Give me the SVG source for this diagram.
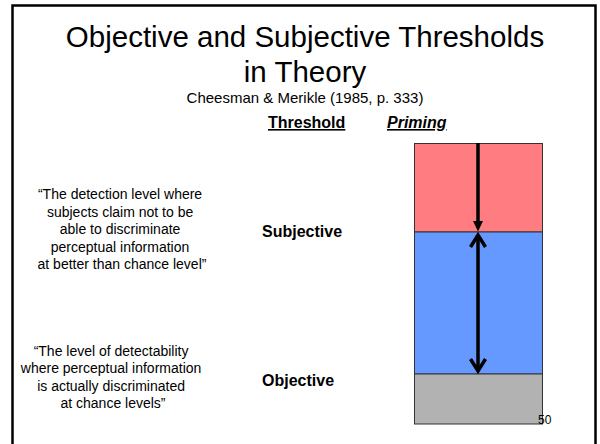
<svg xmlns="http://www.w3.org/2000/svg" width="600" height="444" viewBox="0 0 600 444">
<style>
text{font-family:"Liberation Sans",Arial,sans-serif;fill:#000}
.title{font-size:29.5px}
.q{font-size:14px}
.lbl{font-size:16px;font-weight:bold}
.band{stroke:#333;stroke-width:1}
.arr{stroke:#000;stroke-width:3.5;fill:none}
</style>
<rect width="600" height="444" fill="#fff"/>
<path d="M12.5,444 V5.5 H595.5 V444" fill="none" stroke="#000" stroke-width="2.5"/>
<g id="title">
<text class="title" x="305" y="47" text-anchor="middle">Objective and Subjective Thresholds</text>
<text class="title" x="305" y="82" text-anchor="middle">in Theory</text>
<text x="305" y="103" text-anchor="middle" font-size="15">Cheesman &amp; Merikle (1985, p. 333)</text>
</g>
<g id="headers">
<text class="lbl" x="268" y="128" text-decoration="underline">Threshold</text>
<text class="lbl" x="387" y="128" font-style="italic" text-decoration="underline">Priming</text>
</g>
<g id="subjective-def">
<text class="q" text-anchor="middle" x="122">
<tspan x="122" y="199">“The detection level where</tspan>
<tspan x="122" y="216.5">subjects claim not to be</tspan>
<tspan x="122" y="234">able to discriminate</tspan>
<tspan x="122" y="251.5">perceptual information</tspan>
<tspan x="122" y="269">at better than chance level”</tspan>
</text>
</g>
<g id="objective-def">
<text class="q" text-anchor="middle" x="113">
<tspan x="113" y="355.5">“The level of detectability</tspan>
<tspan x="113" y="373">where perceptual information</tspan>
<tspan x="113" y="390.5">is actually discriminated</tspan>
<tspan x="113" y="408">at chance levels”</tspan>
</text>
</g>
<g id="label-subjective"><text class="lbl" x="262" y="236.5">Subjective</text></g>
<g id="label-objective"><text class="lbl" x="262" y="386">Objective</text></g>
<g id="band-red"><rect class="band" x="414.5" y="143.5" width="128" height="88.5" fill="#FF7C80"/></g>
<g id="band-blue"><rect class="band" x="414.5" y="232" width="128" height="142" fill="#6699FF"/></g>
<g id="band-gray"><rect class="band" x="414.5" y="374" width="128" height="50" fill="#B2B2B2"/></g>
<g id="connectors">
<line x1="478" y1="143" x2="478" y2="222" stroke="#000" stroke-width="3.5"/>
<path d="M473,221 L483,221 L478,231.5 Z" fill="#000"/>
<line class="arr" x1="478" y1="235" x2="478" y2="371"/>
<path class="arr" d="M470.5,247 L478,235 L485.5,247"/>
<path class="arr" d="M470.5,359 L478,371 L485.5,359"/>
</g>
<g id="page-number"><text x="538" y="424" font-size="12">50</text></g>
</svg>
